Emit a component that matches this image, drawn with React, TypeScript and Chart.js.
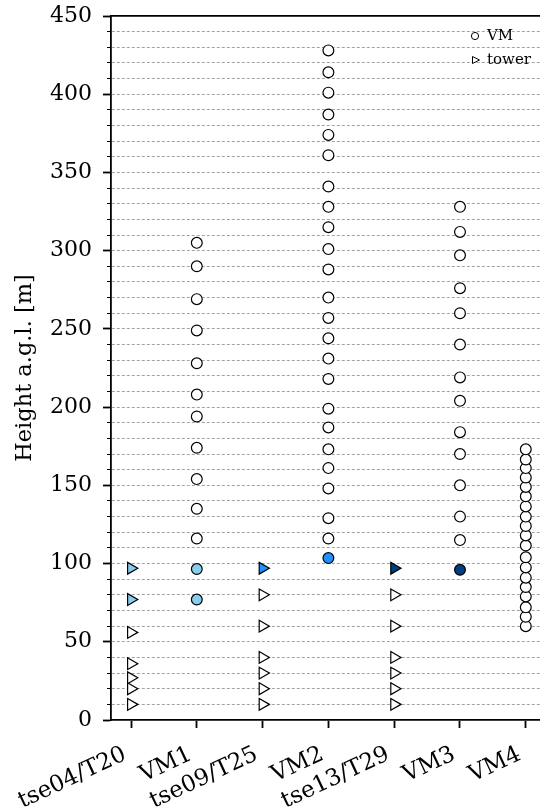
import React, { useEffect, useRef } from 'react';
import { Chart, registerables } from 'chart.js';
Chart.register(...registerables);

// ---------- data ----------
const categories = ['tse04/T20', 'VM1', 'tse09/T25', 'VM2', 'tse13/T29', 'VM3', 'VM4'];
const yTickValues = [0, 50, 100, 150, 200, 250, 300, 350, 400, 450];

// tower heights (triangles)
const tse04Heights = [10, 20, 27, 36, 56, 77, 97];
const tse09Heights = [10, 20, 30, 40, 60, 80, 97];
const tse13Heights = [10, 20, 30, 40, 60, 80, 97];
// virtual mast heights (circles)
const vm1Heights = [77, 96.5, 116, 135, 154, 174, 194, 208, 228, 249, 269, 290, 305];
const vm2Heights = [103.5, 116, 129, 148, 161, 173, 187, 199, 218, 231, 244, 257, 270, 288, 301, 315, 328, 341, 361, 374, 387, 401, 414, 428];
const vm3Heights = [96, 115, 130, 150, 170, 184, 204, 219, 240, 260, 276, 297, 312, 328];
const vm4Heights = [60, 66, 72, 79, 85, 91, 97.5, 104, 111.5, 118, 124, 130, 136.5, 143, 149, 155, 161, 166.5, 173];
// highlighted (filled) heights
const tse04Filled = [77, 97];
const tse09Filled = [97];
const tse13Filled = [97];
const vm1Filled = [77, 96.5];
const vm2Filled = [103.5];
const vm3Filled = [96];
const vm4Filled: number[] = [];

// ---------- styles ----------
const LIGHT = '#87ceeb';
const MID = '#1e90ff';
const DARK = '#003f7f';
const FONT = 'DejaVu Serif';

type P = { x: number; y: number; c: string };
function pts(idx: number, heights: number[], filled: number[], color: string): P[] {
  return heights.map((h) => ({ x: idx, y: h, c: filled.includes(h) ? color : '#ffffff' }));
}

export default function App() {
  const ref = useRef<HTMLCanvasElement>(null);
  useEffect(() => {
    document.body.style.margin = '0';
    const vmPoints: P[] = [
      ...pts(1, vm1Heights, vm1Filled, LIGHT),
      ...pts(3, vm2Heights, vm2Filled, MID),
      ...pts(5, vm3Heights, vm3Filled, DARK),
      ...pts(6, vm4Heights, vm4Filled, '#ffffff'),
    ];
    const towerPoints: P[] = [
      ...pts(0, tse04Heights, tse04Filled, LIGHT),
      ...pts(2, tse09Heights, tse09Filled, MID),
      ...pts(4, tse13Heights, tse13Filled, DARK),
    ];

    const legendPlugin = {
      id: 'innerLegend',
      afterDraw(chart: any) {
        const ctx = chart.ctx as CanvasRenderingContext2D;
        ctx.save();
        ctx.lineWidth = 1;
        ctx.strokeStyle = '#000';
        ctx.fillStyle = '#fff';
        ctx.beginPath();
        ctx.arc(475, 36, 3.6, 0, Math.PI * 2);
        ctx.fill();
        ctx.stroke();
        ctx.beginPath();
        ctx.moveTo(472.5, 56.5);
        ctx.lineTo(479.5, 60);
        ctx.lineTo(472.5, 63.5);
        ctx.closePath();
        ctx.fill();
        ctx.stroke();
        ctx.fillStyle = '#000';
        ctx.font = `15px "${FONT}"`;
        ctx.textBaseline = 'middle';
        ctx.textAlign = 'left';
        ctx.fillText('VM', 487, 36);
        ctx.fillText('tower', 487, 60);
        ctx.restore();
      },
    };

    const xMin = -0.304;
    const xMax = 6.216;

    const chart = new Chart(ref.current as HTMLCanvasElement, {
      type: 'scatter',
      data: {
        datasets: [
          {
            label: 'VM',
            data: vmPoints as any,
            pointStyle: 'circle',
            pointRadius: 5.4,
            pointBackgroundColor: vmPoints.map((p) => p.c),
            pointBorderColor: '#000',
            pointBorderWidth: 1.2,
          },
          {
            label: 'tower',
            data: towerPoints as any,
            pointStyle: 'triangle',
            pointRotation: 90,
            pointRadius: 6.8,
            pointBackgroundColor: towerPoints.map((p) => p.c),
            pointBorderColor: '#000',
            pointBorderWidth: 1.2,
          },
        ],
      },
      options: {
        responsive: false,
        animation: false,
        events: [],
        layout: { autoPadding: false, padding: { left: 0, right: 0, top: 16, bottom: 0 } },
        plugins: { legend: { display: false }, tooltip: { enabled: false } },
        scales: {
          x: {
            type: 'linear',
            position: 'bottom',
            min: xMin,
            max: xMax,
            afterBuildTicks: (s: any) => {
              s.ticks = categories.map((_, i) => ({ value: i }));
            },
            afterFit: (s: any) => {
              s.height = 87;
              s.paddingLeft = 0;
              s.paddingRight = 0;
            },
            ticks: {
              autoSkip: false,
              minRotation: 25,
              maxRotation: 25,
              padding: 13,
              labelOffset: -6,
              color: '#000',
              font: { family: FONT, size: 23 },
              callback: (v: any) => categories[Math.round(Number(v))] ?? '',
            },
            grid: { drawOnChartArea: false, drawTicks: true, tickLength: 8, tickColor: '#000', tickWidth: 1.8 },
            border: { color: '#000', width: 1.8 },
          },
          x2: {
            type: 'linear',
            position: 'top',
            min: xMin,
            max: xMax,
            afterFit: (s: any) => {
              s.height = 0;
              s.paddingLeft = 0;
              s.paddingRight = 0;
            },
            ticks: { display: false },
            grid: { drawOnChartArea: false, drawTicks: false },
            border: { color: '#000', width: 1.8 },
          },
          y: {
            type: 'linear',
            min: 0,
            max: 450,
            afterBuildTicks: (s: any) => {
              const t: any[] = [];
              for (let v = 0; v <= 450; v += 10) t.push({ value: v });
              s.ticks = t;
            },
            afterFit: (s: any) => {
              s.width = 111;
              s.paddingTop = 0;
              s.paddingBottom = 0;
            },
            title: {
              display: true,
              text: 'Height a.g.l. [m]',
              color: '#000',
              font: { family: FONT, size: 22.5 },
              padding: { top: 12, bottom: 0 },
            },
            ticks: {
              autoSkip: false,
              padding: 11,
              color: '#000',
              font: { family: FONT, size: 22 },
              callback: (v: any) => (yTickValues.includes(Number(v)) ? String(v) : ''),
            },
            grid: {
              color: (c: any) =>
                c.tick && (c.tick.value === 0 || c.tick.value === 450) ? 'rgba(0,0,0,0)' : '#999999',
              lineWidth: 0.9,
              tickLength: 8,
              tickColor: '#000',
              tickWidth: (c: any) => (c.tick && c.tick.value % 50 === 0 ? 1.8 : 1.2),
              tickBorderDash: (c: any) => (c.tick && c.tick.value % 50 === 0 ? [] : [0, 4, 4, 20]),
            },
            border: { color: '#000', width: 1.8, dash: [3, 2] },
          },
        },
      },
      plugins: [legendPlugin],
    } as any);
    return () => chart.destroy();
  }, []);

  return (
    <div style={{ position: 'absolute', left: 0, top: 0, width: 540, height: 807 }}>
      <canvas ref={ref} width={540} height={807} style={{ width: 540, height: 807, display: 'block' }} />
    </div>
  );
}
